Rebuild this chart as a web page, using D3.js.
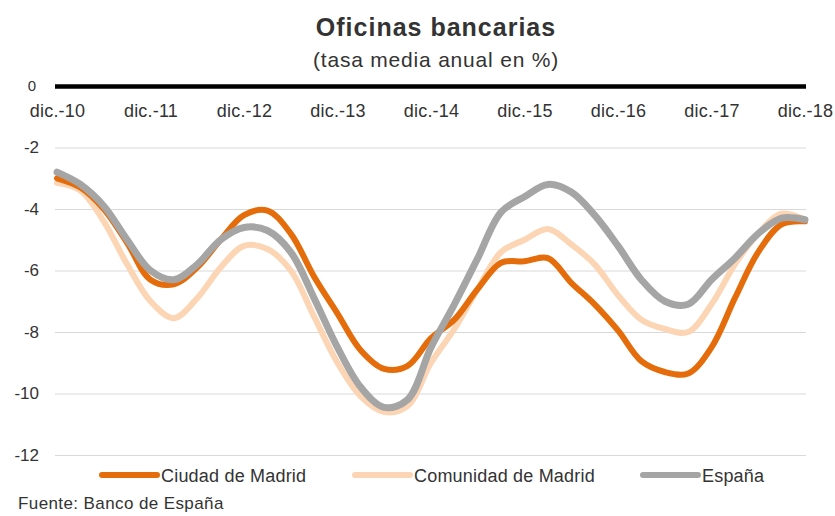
<!DOCTYPE html>
<html>
<head>
<meta charset="utf-8">
<script src="https://cdn.jsdelivr.net/npm/d3@7"></script>
<style>
  body { margin: 0; background: #fff; }
  svg { font-family: "Liberation Sans", Arial, sans-serif; }
</style>
</head>
<body>
<svg width="835" height="516"></svg>
<script>
// tick labels (x axis: december of each year)
var yearLabels = ["dic.-10", "dic.-11", "dic.-12", "dic.-13", "dic.-14", "dic.-15", "dic.-16", "dic.-17", "dic.-18"];
var yTicks = [0, -2, -4, -6, -8, -10, -12];

// quarterly values, dic.-10 .. dic.-18
var ciudad = [-3.0, -3.3, -4.0, -5.1, -6.3, -6.45, -5.9, -5.0, -4.2, -4.05, -4.8, -6.2, -7.4, -8.6, -9.2, -9.1, -8.2,
  -7.6, -6.6, -5.75, -5.7, -5.6, -6.4, -7.1, -7.95, -8.95, -9.3, -9.35, -8.5, -6.9, -5.4, -4.5, -4.4];
var comunidad = [-3.15, -3.4, -4.4, -5.8, -7.0, -7.55, -6.9, -5.9, -5.2, -5.3, -6.0, -7.5, -9.0, -10.1, -10.6, -10.4, -9.0,
  -7.9, -6.6, -5.4, -5.0, -4.65, -5.15, -5.8, -6.8, -7.6, -7.9, -8.0, -7.1, -5.8, -4.8, -4.15, -4.35];
var espana = [-2.8, -3.2, -3.9, -5.0, -6.0, -6.3, -5.8, -5.0, -4.6, -4.7, -5.4, -6.9, -8.5, -9.8, -10.45, -10.2, -8.5,
  -7.1, -5.6, -4.1, -3.6, -3.2, -3.45, -4.2, -5.2, -6.3, -7.0, -7.1, -6.3, -5.6, -4.8, -4.3, -4.35];

var series = [
  {name: "Comunidad de Madrid", values: comunidad, color: "#fcd5b4", width: 6},
  {name: "Ciudad de Madrid", values: ciudad, color: "#e46c0a", width: 6},
  {name: "España", values: espana, color: "#a5a5a5", width: 7}
];
var legendOrder = ["Ciudad de Madrid", "Comunidad de Madrid", "España"];

var svg = d3.select("svg");

var x = d3.scaleLinear().domain([0, 32]).range([57, 805]);
var xYear = d3.scalePoint().domain(yearLabels).range([57, 805]);
var y = d3.scaleLinear().domain([-12, 0]).range([455, 86]);

// title
svg.append("text").attr("x", 436).attr("y", 36).attr("text-anchor", "middle")
  .attr("font-size", 25).attr("font-weight", "bold").attr("fill", "#333")
  .attr("letter-spacing", "1")
  .text("Oficinas bancarias");
svg.append("text").attr("x", 436).attr("y", 67).attr("text-anchor", "middle")
  .attr("font-size", 21).attr("fill", "#333").attr("letter-spacing", "0.8")
  .text("(tasa media anual en %)");

// y axis with grid
var yAxis = svg.append("g")
  .attr("transform", "translate(55,0)")
  .call(d3.axisLeft(y).tickValues(yTicks).tickSize(-751).tickFormat(function(d){ return String(d); }));
yAxis.select(".domain").remove();
yAxis.selectAll(".tick line")
  .attr("stroke", function(d){ return d === 0 ? "#000" : "#d9d9d9"; })
  .attr("stroke-width", function(d){ return d === 0 ? 4.5 : 1.2; });
yAxis.selectAll(".tick text")
  .attr("x", function(d){ return d === 0 ? -19 : -16; })
  .attr("font-size", function(d){ return d === 0 ? 15 : 17; })
  .attr("fill", "#333")
  .attr("font-family", "Liberation Sans, Arial, sans-serif");

// x axis labels just under the zero line
var xAxis = svg.append("g")
  .attr("transform", "translate(0," + y(0) + ")")
  .call(d3.axisBottom(xYear).tickSize(0).tickPadding(18));
xAxis.select(".domain").remove();
xAxis.selectAll(".tick text")
  .attr("font-size", 18).attr("fill", "#333").attr("letter-spacing", "0.2")
  .attr("font-family", "Liberation Sans, Arial, sans-serif");

// lines
var line = d3.line()
  .x(function(d, i){ return x(i); })
  .y(function(d){ return y(d); })
  .curve(d3.curveCatmullRom.alpha(0.5));

svg.selectAll("path.series")
  .data(series)
  .enter()
  .append("path")
  .attr("class", "series")
  .attr("d", function(d){ return line(d.values); })
  .attr("fill", "none")
  .attr("stroke", function(d){ return d.color; })
  .attr("stroke-width", function(d){ return d.width; })
  .attr("stroke-linecap", "round")
  .attr("stroke-linejoin", "round");

// legend
var legendX = [102, 355, 643];
var legend = svg.selectAll("g.legend")
  .data(legendOrder.map(function(n){ return series.find(function(s){ return s.name === n; }); }))
  .enter()
  .append("g")
  .attr("class", "legend")
  .attr("transform", function(d, i){ return "translate(" + legendX[i] + ",475)"; });
legend.append("line")
  .attr("x1", 0).attr("x2", 55).attr("y1", 0).attr("y2", 0)
  .attr("stroke", function(d){ return d.color; })
  .attr("stroke-width", 6).attr("stroke-linecap", "round");
legend.append("text")
  .attr("x", 59).attr("y", 7)
  .attr("font-size", 18).attr("fill", "#333").attr("letter-spacing", "0.2")
  .text(function(d){ return d.name; });

// source
svg.append("text").attr("x", 18).attr("y", 509)
  .attr("font-size", 17).attr("fill", "#333").attr("letter-spacing", "0.4")
  .text("Fuente: Banco de España");
</script>
</body>
</html>
